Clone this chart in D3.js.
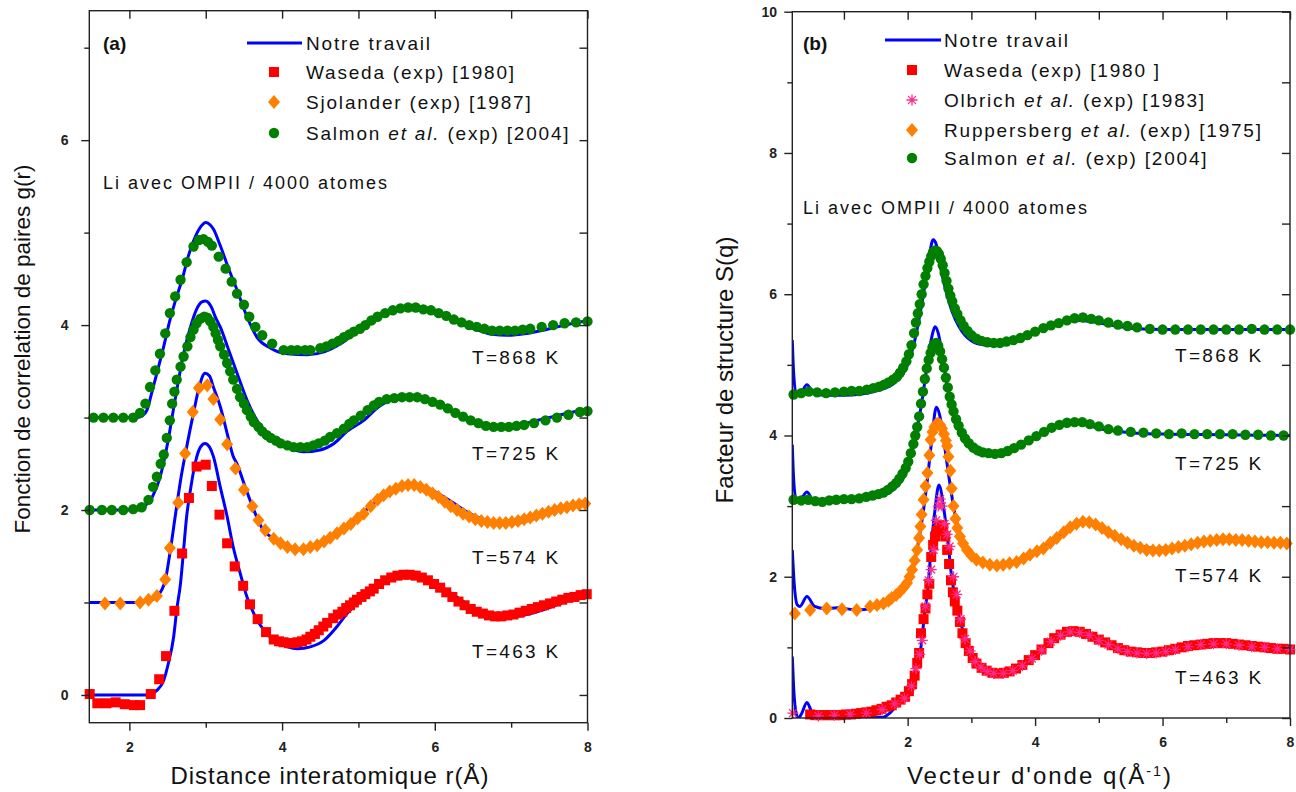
<!DOCTYPE html>
<html><head><meta charset="utf-8">
<script src="https://cdn.jsdelivr.net/npm/d3@7"></script>
<style>body{margin:0;background:#fff}svg{display:block}text{font-family:"Liberation Sans",Arial,sans-serif}</style>
</head><body><svg id="c" width="1296" height="792"></svg>
<script>
// ---------- Panel (a): g(r) ----------
const aTemps = ["T=868 K","T=725 K","T=574 K","T=463 K"];
const aXTicks = [2,4,6,8];
const aYTicks = [0,2,4,6];
const aLegend = ["Notre travail","Waseda (exp) [1980]","Sjolander (exp) [1987]","Salmon et al. (exp) [2004]"];

const aSim463 = [[1.47,0],[2.0,0],[2.23,0],[2.36,0.05],[2.45,0.16],[2.51,0.34],[2.58,0.63],[2.62,0.92],[2.67,1.21],[2.71,1.57],[2.75,1.93],[2.8,2.22],[2.86,2.5],[2.93,2.68],[2.99,2.72],[3.05,2.68],[3.1,2.58],[3.19,2.25],[3.28,1.93],[3.36,1.6],[3.45,1.32],[3.54,1.06],[3.63,0.88],[3.76,0.7],[3.89,0.59],[4.07,0.52],[4.2,0.5],[4.37,0.52],[4.55,0.59],[4.72,0.74],[4.85,0.88],[5.07,1.06],[5.25,1.19],[5.45,1.28],[5.65,1.32],[5.85,1.28],[6.05,1.19],[6.25,1.08],[6.45,0.97],[6.65,0.89],[6.85,0.85],[7.05,0.85],[7.25,0.88],[7.45,0.93],[7.65,0.99],[7.85,1.06],[8.0,1.1]];
const aSim574 = [[1.47,1],[2.1,1],[2.2,1.01],[2.3,1.03],[2.36,1.06],[2.42,1.13],[2.47,1.24],[2.53,1.53],[2.6,1.93],[2.67,2.32],[2.75,2.68],[2.84,3.05],[2.92,3.35],[2.99,3.48],[3.05,3.45],[3.1,3.33],[3.19,3.12],[3.28,2.83],[3.36,2.58],[3.41,2.5],[3.5,2.29],[3.63,2.0],[3.74,1.8],[3.89,1.69],[4.05,1.61],[4.2,1.57],[4.35,1.58],[4.5,1.62],[4.65,1.69],[4.8,1.79],[4.95,1.9],[5.1,2.0],[5.25,2.1],[5.4,2.19],[5.55,2.25],[5.7,2.28],[5.85,2.26],[6.0,2.2],[6.2,2.1],[6.4,1.99],[6.6,1.91],[6.8,1.86],[7.0,1.85],[7.2,1.88],[7.4,1.94],[7.6,2.0],[7.8,2.06],[8.0,2.1]];
const aSim725 = [[1.47,2],[2.1,2],[2.2,2.04],[2.3,2.14],[2.4,2.35],[2.5,2.72],[2.6,3.2],[2.7,3.65],[2.8,3.98],[2.88,4.17],[2.95,4.25],[3.0,4.26],[3.07,4.2],[3.13,4.08],[3.19,3.98],[3.3,3.73],[3.41,3.48],[3.54,3.19],[3.67,2.97],[3.85,2.79],[4.07,2.68],[4.28,2.63],[4.5,2.65],[4.68,2.72],[4.85,2.85],[5.07,2.97],[5.27,3.12],[5.45,3.2],[5.65,3.24],[5.85,3.22],[6.05,3.15],[6.25,3.05],[6.45,2.96],[6.65,2.9],[6.85,2.88],[7.05,2.9],[7.25,2.95],[7.5,3.0],[7.75,3.05],[8.0,3.09]];
const aSim868 = [[1.47,3],[2.1,3],[2.17,3.02],[2.23,3.08],[2.29,3.26],[2.36,3.48],[2.45,3.77],[2.53,4.05],[2.62,4.31],[2.69,4.49],[2.77,4.74],[2.86,4.95],[2.94,5.07],[3.0,5.11],[3.05,5.09],[3.1,5.04],[3.19,4.86],[3.3,4.61],[3.41,4.38],[3.54,4.09],[3.67,3.87],[3.85,3.75],[4.07,3.69],[4.33,3.68],[4.55,3.71],[4.77,3.8],[4.98,3.93],[5.2,4.05],[5.4,4.14],[5.6,4.19],[5.75,4.2],[5.95,4.16],[6.15,4.09],[6.35,4.01],[6.55,3.95],[6.75,3.9],[6.95,3.89],[7.2,3.91],[7.45,3.95],[7.7,4.0],[8.0,4.05]];

const aWaseda463 = [[1.48,0.01],[1.58,-0.09],[1.7,-0.09],[1.82,-0.08],[1.94,-0.1],[2.06,-0.11],[2.14,-0.11],[2.28,0.01],[2.39,0.17],[2.48,0.42],[2.59,0.91],[2.69,1.53],[2.78,2.13],[2.88,2.47],[3.0,2.49],[3.08,2.26],[3.18,1.95],[3.28,1.64],[3.38,1.39],[3.49,1.18],[3.58,0.98],[3.68,0.82],[3.79,0.68],[3.89,0.6],[3.96,0.58],[4.02,0.57],[4.09,0.56],[4.15,0.56],[4.2,0.57],[4.26,0.58],[4.32,0.6],[4.37,0.63],[4.43,0.66],[4.48,0.7],[4.54,0.74],[4.59,0.78],[4.67,0.83],[4.73,0.87],[4.79,0.9],[4.84,0.94],[4.89,0.97],[4.94,1.0],[4.98,1.03],[5.04,1.06],[5.09,1.09],[5.15,1.12],[5.2,1.15],[5.27,1.2],[5.35,1.24],[5.43,1.27],[5.51,1.29],[5.59,1.3],[5.67,1.3],[5.75,1.29],[5.83,1.27],[5.91,1.24],[5.99,1.2],[6.07,1.16],[6.15,1.11],[6.23,1.06],[6.31,1.01],[6.39,0.97],[6.47,0.93],[6.55,0.9],[6.63,0.88],[6.71,0.86],[6.79,0.85],[6.87,0.85],[6.95,0.86],[7.03,0.87],[7.11,0.89],[7.19,0.91],[7.27,0.93],[7.35,0.95],[7.43,0.97],[7.51,0.99],[7.59,1.01],[7.67,1.03],[7.75,1.05],[7.83,1.06],[7.91,1.08],[7.99,1.09]];
const aSjolander574 = [[1.68,0.99],[1.88,0.99],[2.14,1.0],[2.25,1.03],[2.36,1.07],[2.47,1.25],[2.53,1.59],[2.64,2.08],[2.73,2.61],[2.83,3.06],[2.91,3.32],[3.02,3.35],[3.1,3.2],[3.19,2.98],[3.28,2.71],[3.39,2.45],[3.5,2.22],[3.61,2.04],[3.69,1.89],[3.78,1.78],[3.89,1.69],[3.98,1.64],[4.07,1.6],[4.17,1.575],[4.28,1.575],[4.37,1.6],[4.46,1.62],[4.55,1.66],[4.63,1.7],[4.72,1.75],[4.81,1.8],[4.9,1.85],[4.99,1.91],[5.07,1.96],[5.16,2.04],[5.25,2.11],[5.33,2.16],[5.41,2.2],[5.49,2.23],[5.57,2.26],[5.65,2.27],[5.73,2.27],[5.81,2.25],[5.89,2.22],[5.97,2.18],[6.05,2.14],[6.13,2.09],[6.21,2.04],[6.29,2.0],[6.37,1.96],[6.45,1.93],[6.53,1.9],[6.61,1.88],[6.69,1.87],[6.77,1.86],[6.85,1.86],[6.93,1.86],[7.01,1.87],[7.09,1.88],[7.17,1.9],[7.25,1.92],[7.33,1.94],[7.41,1.96],[7.49,1.98],[7.57,2.0],[7.65,2.02],[7.73,2.03],[7.81,2.05],[7.89,2.06],[7.97,2.07]];
const aSalmon725 = [[1.48,2.0],[1.64,2.0],[1.77,2.0],[1.92,2.0],[2.05,2.01],[2.16,2.03],[2.25,2.11],[2.31,2.25],[2.36,2.36],[2.41,2.5],[2.45,2.6],[2.49,2.78],[2.53,2.97],[2.56,3.15],[2.59,3.28],[2.62,3.41],[2.67,3.55],[2.71,3.66],[2.76,3.77],[2.8,3.87],[2.84,3.95],[2.88,4.02],[2.93,4.07],[2.98,4.09],[3.02,4.08],[3.06,4.04],[3.1,3.98],[3.13,3.91],[3.16,3.84],[3.19,3.77],[3.24,3.68],[3.28,3.59],[3.32,3.5],[3.36,3.41],[3.41,3.31],[3.45,3.22],[3.5,3.15],[3.54,3.08],[3.59,3.01],[3.63,2.95],[3.69,2.9],[3.74,2.85],[3.8,2.81],[3.85,2.78],[3.92,2.75],[3.98,2.72],[4.07,2.7],[4.15,2.68],[4.24,2.68],[4.33,2.68],[4.41,2.7],[4.48,2.72],[4.56,2.75],[4.63,2.79],[4.72,2.83],[4.81,2.88],[4.88,2.93],[4.94,2.97],[5.03,3.02],[5.12,3.08],[5.2,3.13],[5.27,3.17],[5.37,3.2],[5.47,3.21],[5.57,3.22],[5.67,3.22],[5.77,3.22],[5.87,3.2],[5.97,3.17],[6.07,3.14],[6.17,3.1],[6.27,3.05],[6.37,3.01],[6.47,2.97],[6.57,2.94],[6.67,2.91],[6.77,2.9],[6.87,2.9],[6.97,2.9],[7.07,2.91],[7.17,2.92],[7.3,2.94],[7.45,2.97],[7.6,3.0],[7.75,3.03],[7.9,3.06],[8.0,3.07]];
const aSalmon868 = [[1.53,3.0],[1.66,3.0],[1.79,3.0],[1.92,3.0],[2.05,3.0],[2.14,3.05],[2.21,3.15],[2.27,3.33],[2.34,3.51],[2.4,3.69],[2.47,3.91],[2.53,4.13],[2.6,4.31],[2.67,4.49],[2.75,4.68],[2.84,4.85],[2.91,4.92],[2.97,4.93],[3.03,4.9],[3.08,4.86],[3.17,4.74],[3.26,4.61],[3.34,4.47],[3.41,4.34],[3.5,4.22],[3.57,4.09],[3.65,3.98],[3.74,3.89],[3.87,3.8],[4.02,3.73],[4.12,3.73],[4.2,3.73],[4.3,3.73],[4.37,3.73],[4.5,3.75],[4.58,3.77],[4.66,3.8],[4.74,3.83],[4.81,3.87],[4.88,3.9],[4.94,3.93],[5.02,3.96],[5.09,4.0],[5.17,4.05],[5.25,4.09],[5.35,4.13],[5.45,4.16],[5.55,4.18],[5.65,4.19],[5.75,4.19],[5.85,4.17],[5.95,4.16],[6.05,4.13],[6.15,4.1],[6.25,4.06],[6.35,4.03],[6.45,4.0],[6.55,3.98],[6.65,3.96],[6.75,3.94],[6.85,3.94],[6.95,3.94],[7.05,3.94],[7.15,3.95],[7.25,3.96],[7.4,3.98],[7.55,4.0],[7.7,4.02],[7.85,4.03],[8.0,4.04]];

// ---------- Panel (b): S(q) ----------
const bTemps = ["T=868 K","T=725 K","T=574 K","T=463 K"];
const bXTicks = [2,4,6,8];
const bYTicks = [0,2,4,6,8,10];
const bLegend = ["Notre travail","Waseda (exp) [1980 ]","Olbrich et al. (exp) [1983]","Ruppersberg et al. (exp) [1975]","Salmon et al. (exp) [2004]"];

const bSim463 = [[0.19,0.87],[0.21,0.45],[0.24,0.12],[0.28,0.0],[0.33,0.05],[0.42,0.22],[0.5,0.08],[0.6,0.03],[1.0,0.02],[1.4,0.02],[1.6,0.01],[1.72,0.07],[1.87,0.23],[2.03,0.44],[2.13,0.73],[2.21,1.01],[2.26,1.43],[2.32,1.86],[2.37,2.43],[2.43,2.95],[2.49,3.3],[2.57,2.95],[2.64,2.43],[2.69,2.0],[2.77,1.62],[2.85,1.29],[2.95,1.01],[3.08,0.82],[3.24,0.68],[3.4,0.63],[3.56,0.66],[3.77,0.75],[3.97,0.89],[4.18,1.03],[4.37,1.2],[4.6,1.24],[4.85,1.18],[5.1,1.08],[5.4,0.97],[5.7,0.92],[6.0,0.94],[6.3,1.0],[6.6,1.05],[7.0,1.07],[7.5,1.02],[8.0,0.97]];
const bSim574 = [[0.19,2.38],[0.22,1.9],[0.27,1.6],[0.31,1.58],[0.42,1.72],[0.54,1.58],[0.7,1.55],[0.9,1.56],[1.2,1.53],[1.5,1.57],[1.7,1.65],[1.9,1.8],[2.0,1.95],[2.1,2.2],[2.2,2.65],[2.3,3.3],[2.38,3.95],[2.45,4.4],[2.5,4.3],[2.58,3.85],[2.65,3.4],[2.75,2.85],[2.85,2.52],[3.0,2.3],[3.2,2.18],[3.4,2.15],[3.6,2.18],[3.9,2.3],[4.2,2.47],[4.5,2.65],[4.75,2.76],[5.0,2.72],[5.3,2.57],[5.6,2.45],[5.9,2.4],[6.2,2.42],[6.6,2.5],[7.0,2.53],[7.4,2.51],[8.0,2.47]];
const bSim725 = [[0.19,3.87],[0.21,3.4],[0.25,3.1],[0.3,3.08],[0.42,3.2],[0.52,3.08],[1.0,3.07],[1.5,3.12],[1.8,3.25],[2.0,3.55],[2.1,3.9],[2.2,4.35],[2.3,4.95],[2.38,5.4],[2.43,5.54],[2.48,5.45],[2.55,5.1],[2.65,4.55],[2.75,4.2],[2.85,3.97],[3.0,3.8],[3.2,3.72],[3.4,3.72],[3.6,3.8],[3.9,3.94],[4.2,4.08],[4.5,4.16],[4.7,4.17],[5.0,4.1],[5.5,4.04],[6.0,4.02],[7.0,4.01],[8.0,4.0]];
const bSim868 = [[0.19,5.35],[0.21,4.9],[0.25,4.6],[0.3,4.58],[0.42,4.72],[0.52,4.6],[0.7,4.57],[1.0,4.57],[1.5,4.63],[1.8,4.75],[2.0,5.0],[2.1,5.3],[2.2,5.75],[2.3,6.3],[2.35,6.6],[2.4,6.77],[2.45,6.7],[2.5,6.45],[2.6,6.05],[2.7,5.75],[2.8,5.55],[2.9,5.42],[3.0,5.34],[3.2,5.28],[3.4,5.27],[3.6,5.32],[3.8,5.4],[4.0,5.47],[4.3,5.57],[4.6,5.63],[4.9,5.61],[5.2,5.56],[5.6,5.51],[6.0,5.5],[7.0,5.5],[8.0,5.5]];

const bWaseda463 = [[0.47,0.05],[0.55,0.04],[0.63,0.04],[0.71,0.04],[0.79,0.04],[0.87,0.04],[0.95,0.04],[1.03,0.05],[1.11,0.05],[1.19,0.06],[1.27,0.07],[1.35,0.08],[1.43,0.09],[1.51,0.11],[1.59,0.13],[1.67,0.16],[1.75,0.18],[1.82,0.22],[1.89,0.26],[1.96,0.3],[2.02,0.38],[2.07,0.48],[2.11,0.6],[2.15,0.78],[2.18,0.92],[2.21,1.2],[2.25,1.4],[2.28,1.55],[2.31,1.75],[2.34,1.9],[2.37,2.28],[2.4,2.45],[2.43,2.57],[2.46,2.65],[2.5,2.72],[2.53,2.73],[2.56,2.68],[2.59,2.57],[2.62,2.38],[2.65,2.18],[2.68,1.95],[2.71,1.78],[2.74,1.65],[2.78,1.52],[2.82,1.36],[2.86,1.2],[2.91,1.06],[2.96,0.95],[3.02,0.85],[3.08,0.77],[3.16,0.71],[3.24,0.67],[3.33,0.64],[3.42,0.63],[3.51,0.64],[3.6,0.66],[3.7,0.7],[3.8,0.75],[3.9,0.82],[4.0,0.89],[4.1,0.97],[4.21,1.06],[4.3,1.13],[4.4,1.18],[4.5,1.22],[4.6,1.23],[4.7,1.22],[4.8,1.19],[4.9,1.15],[5.0,1.11],[5.1,1.07],[5.2,1.03],[5.3,0.99],[5.4,0.96],[5.5,0.94],[5.6,0.93],[5.7,0.92],[5.8,0.92],[5.9,0.93],[6.0,0.94],[6.1,0.96],[6.2,0.98],[6.3,1.0],[6.4,1.02],[6.5,1.03],[6.6,1.04],[6.7,1.05],[6.8,1.06],[6.9,1.06],[7.0,1.06],[7.1,1.05],[7.2,1.04],[7.3,1.03],[7.4,1.02],[7.5,1.01],[7.6,1.0],[7.7,0.99],[7.8,0.98],[7.9,0.98],[8.0,0.97]];
const bOlbrich463 = [[0.2,0.07],[0.6,0.03],[0.85,0.04],[1.1,0.05],[1.35,0.07],[1.6,0.12],[1.8,0.2],[1.95,0.28],[2.06,0.45],[2.13,0.7],[2.19,0.9],[2.23,1.1],[2.28,1.58],[2.33,1.95],[2.37,2.1],[2.41,2.38],[2.45,2.8],[2.48,3.0],[2.51,3.1],[2.54,3.0],[2.58,2.75],[2.62,2.6],[2.66,2.43],[2.72,2.0],[2.77,1.75],[2.83,1.4],[2.9,1.12],[2.98,0.95],[3.06,0.8],[3.15,0.72],[3.25,0.66],[3.35,0.63],[3.5,0.63],[3.65,0.67],[3.8,0.74],[3.95,0.84],[4.1,0.96],[4.25,1.08],[4.4,1.17],[4.55,1.22],[4.7,1.21],[4.85,1.17],[5.0,1.1],[5.15,1.04],[5.3,0.98],[5.45,0.94],[5.6,0.92],[5.75,0.91],[5.9,0.92],[6.05,0.94],[6.2,0.97],[6.4,1.01],[6.6,1.04],[6.8,1.05],[7.0,1.05],[7.2,1.03],[7.4,1.01],[7.6,1.0],[7.8,0.98],[8.0,0.97]];
const bRuppersberg574 = [[0.23,1.48],[0.47,1.53],[0.73,1.55],[0.97,1.54],[1.2,1.53],[1.41,1.58],[1.52,1.6],[1.62,1.62],[1.7,1.66],[1.75,1.7],[1.82,1.74],[1.88,1.79],[1.94,1.85],[1.99,1.91],[2.03,2.0],[2.07,2.1],[2.11,2.23],[2.15,2.38],[2.18,2.55],[2.2,2.71],[2.22,2.88],[2.25,3.09],[2.28,3.28],[2.31,3.47],[2.34,3.72],[2.36,3.94],[2.39,4.05],[2.42,4.12],[2.45,4.16],[2.48,4.17],[2.51,4.15],[2.54,4.1],[2.57,4.02],[2.6,3.93],[2.62,3.85],[2.64,3.7],[2.67,3.5],[2.69,3.25],[2.72,3.0],[2.75,2.82],[2.78,2.69],[2.82,2.57],[2.87,2.47],[2.93,2.38],[3.0,2.3],[3.08,2.24],[3.18,2.2],[3.29,2.17],[3.4,2.16],[3.5,2.17],[3.6,2.19],[3.71,2.21],[3.82,2.26],[3.92,2.31],[4.03,2.36],[4.13,2.4],[4.24,2.48],[4.34,2.55],[4.45,2.63],[4.55,2.7],[4.65,2.75],[4.75,2.78],[4.85,2.77],[4.95,2.74],[5.05,2.69],[5.15,2.63],[5.25,2.58],[5.35,2.53],[5.45,2.48],[5.55,2.44],[5.65,2.41],[5.75,2.38],[5.85,2.37],[5.95,2.37],[6.05,2.38],[6.15,2.4],[6.25,2.42],[6.35,2.44],[6.45,2.46],[6.55,2.48],[6.65,2.5],[6.75,2.51],[6.85,2.52],[6.95,2.53],[7.05,2.53],[7.15,2.52],[7.25,2.52],[7.35,2.51],[7.45,2.5],[7.55,2.49],[7.65,2.49],[7.75,2.48],[7.85,2.48],[7.95,2.47]];
const bSalmon725 = [[0.21,3.09],[0.33,3.08],[0.44,3.09],[0.55,3.07],[0.66,3.06],[0.77,3.08],[0.88,3.09],[1.0,3.1],[1.12,3.1],[1.24,3.11],[1.35,3.13],[1.45,3.15],[1.54,3.17],[1.62,3.19],[1.69,3.23],[1.76,3.28],[1.82,3.33],[1.87,3.39],[1.92,3.46],[1.97,3.54],[2.01,3.63],[2.05,3.75],[2.09,3.88],[2.12,4.0],[2.15,4.12],[2.18,4.27],[2.21,4.45],[2.24,4.62],[2.27,4.8],[2.3,4.95],[2.33,5.07],[2.36,5.17],[2.39,5.25],[2.42,5.3],[2.45,5.31],[2.48,5.27],[2.51,5.19],[2.54,5.08],[2.57,4.96],[2.6,4.82],[2.63,4.68],[2.66,4.55],[2.69,4.44],[2.72,4.34],[2.76,4.23],[2.8,4.14],[2.85,4.04],[2.9,3.96],[2.96,3.89],[3.03,3.83],[3.1,3.79],[3.18,3.76],[3.27,3.75],[3.37,3.74],[3.47,3.75],[3.57,3.78],[3.67,3.82],[3.78,3.87],[3.9,3.93],[4.02,3.99],[4.14,4.05],[4.26,4.11],[4.38,4.15],[4.5,4.18],[4.62,4.19],[4.74,4.19],[4.86,4.16],[5.0,4.13],[5.15,4.09],[5.3,4.07],[5.5,4.05],[5.7,4.04],[5.9,4.03],[6.1,4.02],[6.3,4.03],[6.5,4.02],[6.7,4.02],[6.9,4.02],[7.1,4.02],[7.3,4.01],[7.5,4.01],[7.7,4.0],[7.9,4.0]];
const bSalmon868 = [[0.21,4.58],[0.33,4.6],[0.45,4.62],[0.58,4.61],[0.72,4.6],[0.86,4.61],[1.0,4.62],[1.12,4.63],[1.24,4.63],[1.36,4.65],[1.46,4.67],[1.55,4.69],[1.63,4.72],[1.7,4.75],[1.77,4.79],[1.83,4.83],[1.88,4.89],[1.93,4.96],[1.98,5.05],[2.02,5.15],[2.06,5.28],[2.1,5.45],[2.13,5.6],[2.16,5.73],[2.19,5.86],[2.22,6.0],[2.25,6.14],[2.28,6.26],[2.31,6.37],[2.34,6.46],[2.37,6.54],[2.4,6.6],[2.43,6.62],[2.46,6.61],[2.49,6.57],[2.52,6.5],[2.55,6.41],[2.58,6.3],[2.61,6.19],[2.64,6.08],[2.67,5.98],[2.7,5.9],[2.74,5.8],[2.78,5.72],[2.83,5.63],[2.88,5.55],[2.94,5.48],[3.0,5.42],[3.08,5.37],[3.16,5.34],[3.25,5.32],[3.35,5.31],[3.45,5.31],[3.55,5.33],[3.66,5.35],[3.77,5.38],[3.88,5.42],[4.0,5.47],[4.13,5.52],[4.25,5.56],[4.37,5.59],[4.5,5.63],[4.62,5.66],[4.75,5.67],[4.88,5.65],[5.0,5.63],[5.15,5.6],[5.3,5.57],[5.45,5.55],[5.6,5.53],[5.8,5.51],[6.0,5.5],[6.2,5.5],[6.4,5.5],[6.6,5.5],[6.8,5.5],[7.0,5.5],[7.2,5.5],[7.4,5.51],[7.6,5.5],[7.8,5.5],[8.0,5.5]];

// ---------- styles ----------
const BLUE="#0000ff", RED="#ff0000", ORANGE="#ff8000", GREEN="#007f00", PINK="#ff2a8a";
const svg = d3.select("#c");

function symPath(kind){
  if(kind==="square") return d3.symbol(d3.symbolSquare,100)();
  if(kind==="diamond") return "M0,-7L6,0L0,7L-6,0Z";
  if(kind==="circle") return d3.symbol(d3.symbolCircle,84)();
  if(kind==="star") return "M0,-5.5V5.5M-5.5,0H5.5M-3.9,-3.9L3.9,3.9M-3.9,3.9L3.9,-3.9";
}
const symColor = {square:RED, diamond:ORANGE, circle:GREEN, star:PINK};

function drawMarkers(g, x, y, data, kind){
  const sel = g.selectAll(null).data(data).enter().append("path")
    .attr("transform", d => `translate(${x(d[0])},${y(d[1])})`)
    .attr("d", symPath(kind));
  if(kind==="star") sel.attr("fill","none").attr("stroke",PINK).attr("stroke-width",1.3);
  else sel.attr("fill", symColor[kind]);
}

function panel(cfg){
  const {L,R,T,B} = cfg;
  const x = d3.scaleLinear().domain(cfg.xd).range([L,R]);
  const y = d3.scaleLinear().domain(cfg.yd).range([B,T]);
  const g = svg.append("g");
  const clipId = "clip"+cfg.id;
  svg.append("clipPath").attr("id",clipId).append("rect").attr("x",L).attr("y",T).attr("width",R-L).attr("height",B-T);

  const line = d3.line().x(d=>x(d[0])).y(d=>y(d[1])).curve(d3.curveMonotoneX);
  const lg = g.append("g").attr("clip-path",`url(#${clipId})`);
  cfg.sims.forEach(s => lg.append("path").attr("d",line(s)).attr("fill","none").attr("stroke",BLUE).attr("stroke-width",3));
  cfg.exps.forEach(e => drawMarkers(g, x, y, e.data, e.kind));

  g.append("rect").attr("x",L).attr("y",T).attr("width",R-L).attr("height",B-T).attr("fill","none").attr("stroke","#222").attr("stroke-width",1.4);

  const xMaj = cfg.xTicks, xMin = cfg.xMinor;
  const yMaj = cfg.yTicks, yMin = cfg.yMinor;
  const gb = g.append("g").attr("transform",`translate(0,${B})`).call(d3.axisBottom(x).tickValues(xMaj).tickSize(8).tickFormat(d3.format("d")));
  g.append("g").attr("transform",`translate(0,${B})`).call(d3.axisBottom(x).tickValues(xMin).tickSize(5).tickFormat(""));
  g.append("g").attr("transform",`translate(0,${T})`).call(d3.axisBottom(x).tickValues(xMaj.concat(xMin)).tickSize(8).tickFormat(""));
  const gl = g.append("g").attr("transform",`translate(${L},0)`).call(d3.axisLeft(y).tickValues(yMaj).tickSize(8).tickFormat(d3.format("d")));
  g.append("g").attr("transform",`translate(${L},0)`).call(d3.axisLeft(y).tickValues(yMin).tickSize(5).tickFormat(""));
  g.append("g").attr("transform",`translate(${R},0)`).call(d3.axisLeft(y).tickValues(yMaj.concat(yMin)).tickSize(8).tickFormat(""));
  g.selectAll(".domain").remove();
  g.selectAll(".tick line").attr("stroke","#222").attr("stroke-width",1.4);
  gb.selectAll(".tick text").attr("font-size",14).attr("font-weight","bold").attr("fill","#222").attr("dy","1.3em");
  gl.selectAll(".tick text").attr("font-size",14).attr("font-weight","bold").attr("fill","#222").attr("dx",cfg.yLabelDx);

  const xt = svg.append("text").attr("x",cfg.xTitle.x).attr("y",cfg.xTitle.y).attr("text-anchor","middle")
    .attr("font-size",cfg.xTitle.size).attr("letter-spacing",cfg.xTitle.ls).attr("fill","#111");
  cfg.xTitle.parts.forEach(p => { const t = xt.append("tspan").text(p.t); if(p.sup){t.attr("baseline-shift","super").attr("font-size",cfg.xTitle.size*0.6);} });
  svg.append("text").attr("transform",`translate(${cfg.yTitle.x},${cfg.yTitle.y}) rotate(-90)`).attr("text-anchor","middle")
    .attr("font-size",cfg.yTitle.size).attr("fill","#111").text(cfg.yTitle.t);

  svg.append("text").attr("x",cfg.letter.x).attr("y",cfg.letter.y).attr("font-size",19).attr("font-weight","bold").attr("fill","#111").text(cfg.letter.t);

  const lgd = cfg.legend;
  svg.append("line").attr("x1",lgd.lx1).attr("x2",lgd.lx2).attr("y1",lgd.rows[0]-7).attr("y2",lgd.rows[0]-7).attr("stroke",BLUE).attr("stroke-width",3);
  lgd.items.forEach((it,i) => {
    const ty = lgd.rows[i];
    if(i>0){ svg.append("path").attr("transform",`translate(${lgd.mx},${ty-7})`).attr("d",symPath(lgd.kinds[i]))
      .attr("fill", lgd.kinds[i]==="star"?"none":symColor[lgd.kinds[i]])
      .attr("stroke", lgd.kinds[i]==="star"?PINK:null).attr("stroke-width",1.3); }
    const t = svg.append("text").attr("x",lgd.tx).attr("y",ty).attr("font-size",19).attr("letter-spacing",1.8).attr("fill","#111");
    const m = it.match(/^(.*?)(et al\.)(.*)$/);
    if(m){ t.append("tspan").text(m[1]); t.append("tspan").attr("font-style","italic").text(m[2]); t.append("tspan").text(m[3]); }
    else t.text(it);
  });
  svg.append("text").attr("x",cfg.note.x).attr("y",cfg.note.y).attr("font-size",18).attr("letter-spacing",2).attr("fill","#111").text("Li avec OMPII / 4000 atomes");

  cfg.temps.forEach((t,i) => svg.append("text").attr("x",cfg.tempX).attr("y",cfg.tempY[i]).attr("font-size",19).attr("letter-spacing",2.3).attr("fill","#111").text(t));
}

panel({
  id:"a", L:89.3, R:587.5, T:10.7, B:722.7, xd:[1.475,8], yd:[-0.3,7.4],
  xTicks:aXTicks, xMinor:[3,5,7], yTicks:aYTicks, yMinor:[1,3,5,7], yLabelDx:"-0.7em",
  sims:[aSim463,aSim574,aSim725,aSim868],
  exps:[{data:aSjolander574,kind:"diamond"},{data:aWaseda463,kind:"square"},{data:aSalmon725,kind:"circle"},{data:aSalmon868,kind:"circle"}],
  xTitle:{x:330,y:784,size:24,ls:1,parts:[{t:"Distance interatomique r(Å)"}]},
  yTitle:{x:30,y:349,t:"Fonction de correlation de paires g(r)",size:22.5},
  letter:{x:103,y:50,t:"(a)"},
  legend:{lx1:247,lx2:302,mx:274,tx:306,rows:[50,79,109,140],items:aLegend,kinds:["line","square","diamond","circle"]},
  note:{x:103,y:189},
  temps:aTemps, tempX:472, tempY:[364,460,564,658]
});

panel({
  id:"b", L:792.3, R:1290, T:11.7, B:718, xd:[0.19,8], yd:[0,10],
  xTicks:bXTicks, xMinor:[1,3,5,7], yTicks:bYTicks, yMinor:[1,3,5,7,9], yLabelDx:"-0.3em",
  sims:[bSim463,bSim574,bSim725,bSim868],
  exps:[{data:bRuppersberg574,kind:"diamond"},{data:bWaseda463,kind:"square"},{data:bOlbrich463,kind:"star"},{data:bSalmon725,kind:"circle"},{data:bSalmon868,kind:"circle"}],
  xTitle:{x:1040,y:784,size:24,ls:2,parts:[{t:"Vecteur d'onde q(Å"},{t:"-1",sup:true},{t:")"}]},
  yTitle:{x:733,y:370,t:"Facteur de structure S(q)",size:24},
  letter:{x:803,y:50,t:"(b)"},
  legend:{lx1:885,lx2:941,mx:912,tx:944,rows:[47,77,107,137,165],items:bLegend,kinds:["line","square","star","diamond","circle"]},
  note:{x:803,y:214},
  temps:bTemps, tempX:1175, tempY:[362,470,582,684]
});
</script></body></html>
